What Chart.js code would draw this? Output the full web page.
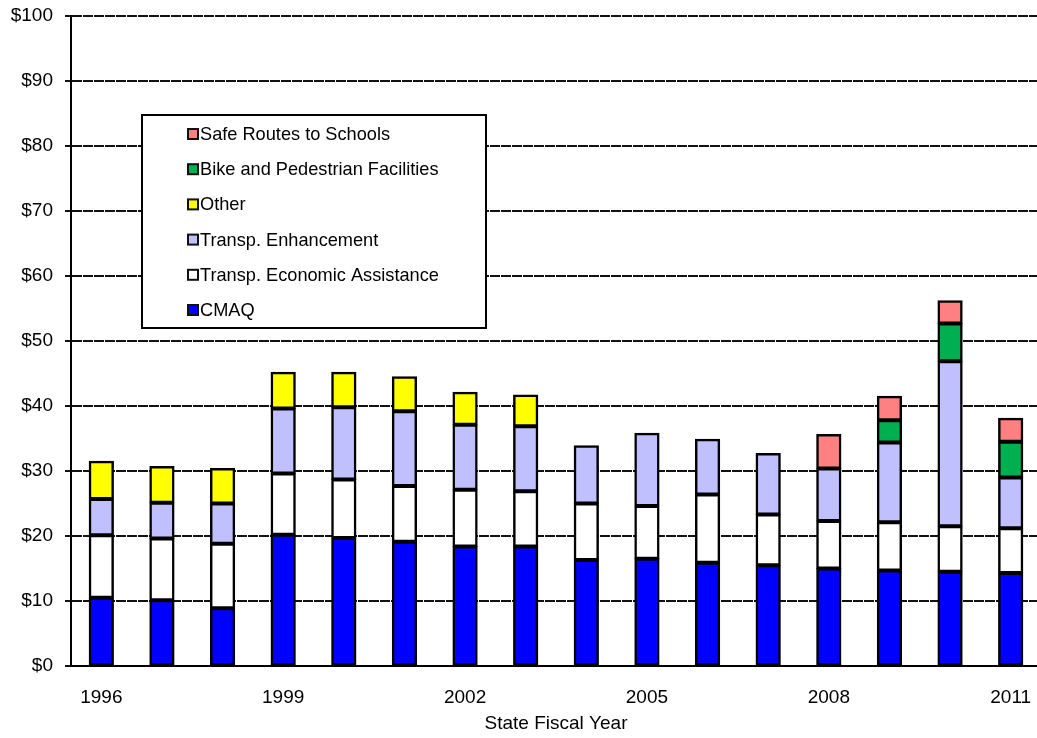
<!DOCTYPE html>
<html>
<head>
<meta charset="utf-8">
<script src="https://cdn.jsdelivr.net/npm/chart.js@4/dist/chart.umd.min.js"></script>
<style>
  html, body { margin: 0; padding: 0; background: #fff; overflow: hidden; width: 1037px; height: 738px; }
  #wrap { position: absolute; left: 0; top: 0; width: 1041px; height: 738px; }
  canvas { display: block; }
</style>
</head>
<body>
<div id="wrap"><canvas id="c" width="1041" height="738" style="width:1041px;height:738px"></canvas></div>
<script>
// State fiscal years
const years = ['1996','1997','1998','1999','2000','2001','2002','2003','2004','2005','2006','2007','2008','2009','2010','2011'];
// Years that get an axis label
const yearTicks = ['1996','1999','2002','2005','2008','2011'];

// Funding by program, $ millions
const cmaq  = [10.5, 10.1, 8.9, 20.2, 19.7, 19.1, 18.4, 18.4, 16.3, 16.5, 15.9, 15.5, 15.0, 14.7, 14.5, 14.3];
const tea   = [9.6, 9.5, 9.9, 9.4, 9.0, 8.6, 8.7, 8.5, 8.7, 8.1, 10.5, 7.8, 7.3, 7.4, 7.0, 6.9];
const enh   = [5.6, 5.5, 6.2, 10.0, 11.1, 11.5, 10.0, 10.0, 8.9, 11.2, 8.5, 9.4, 8.1, 12.3, 25.4, 7.8];
const other = [5.8, 5.6, 5.4, 5.6, 5.4, 5.3, 5.0, 4.8, null, null, null, null, null, null, null, null];
const bike  = [null, null, null, null, null, null, null, null, null, null, null, null, null, 3.4, 5.8, 5.5];
const srts  = [null, null, null, null, null, null, null, null, null, null, null, null, 5.2, 3.7, 3.5, 3.6];

const FONT = "'Liberation Sans', Arial, Helvetica, sans-serif";

function ds(label, data, color) {
  return {
    label, data,
    backgroundColor: color,
    borderColor: '#000',
    borderWidth: 2.5,
    borderSkipped: false,
    inflateAmount: 0.5,
    categoryPercentage: 1.0,
    barPercentage: 0.4
  };
}

// Boxed legend drawn inside the plot, top item = last series
const boxLegend = {
  id: 'boxLegend',
  afterDatasetsDraw(chart) {
    const ctx = chart.ctx;
    const bx = 142, by = 115, bw = 344, bh = 213;
    ctx.save();
    ctx.fillStyle = '#fff';
    ctx.fillRect(bx, by, bw, bh);
    ctx.lineWidth = 2;
    ctx.strokeStyle = '#000';
    ctx.strokeRect(bx, by, bw, bh);
    const items = chart.data.datasets.slice().reverse();
    ctx.font = '18.2px ' + FONT;
    ctx.textBaseline = 'middle';
    ctx.textAlign = 'left';
    items.forEach((d, i) => {
      const cy = 134 + i * 35.2;
      ctx.fillStyle = d.backgroundColor;
      ctx.fillRect(188, cy - 5, 10, 10);
      ctx.lineWidth = 2;
      ctx.strokeStyle = '#111';
      ctx.strokeRect(188, cy - 5, 10, 10);
      ctx.fillStyle = '#000';
      ctx.fillText(d.label, 200, cy + 1);
    });
    ctx.restore();
  }
};

new Chart(document.getElementById('c'), {
  type: 'bar',
  data: {
    labels: years,
    datasets: [
      ds('CMAQ', cmaq, '#0000FF'),
      ds('Transp. Economic Assistance', tea, '#FFFFFF'),
      ds('Transp. Enhancement', enh, '#C0C0FF'),
      ds('Other', other, '#FFFF00'),
      ds('Bike and Pedestrian Facilities', bike, '#00B050'),
      ds('Safe Routes to Schools', srts, '#FF8080')
    ]
  },
  options: {
    responsive: false,
    animation: false,
    layout: { padding: { top: 16, right: 0, left: 0, bottom: 0 } },
    plugins: {
      legend: { display: false },
      tooltip: { enabled: false }
    },
    scales: {
      x: {
        stacked: true,
        grid: { display: false, drawTicks: false },
        border: { display: true, color: '#000', width: 2 },
        ticks: {
          autoSkip: false,
          maxRotation: 0,
          padding: 20,
          color: '#000',
          font: { family: FONT, size: 19 },
          callback: function (v, i) {
            const y = years[i];
            return yearTicks.includes(y) ? y : '';
          }
        },
        title: {
          display: true,
          text: 'State Fiscal Year',
          color: '#000',
          font: { family: FONT, size: 19 },
          padding: { top: 0, bottom: 3 }
        },
        afterFit(s) { s.height = 72; s.paddingLeft = 0; s.paddingRight = 0; }
      },
      y: {
        stacked: true,
        min: 0,
        max: 100,
        ticks: {
          stepSize: 10,
          padding: 12,
          color: '#000',
          font: { family: FONT, size: 19 },
          callback: v => '$' + v
        },
        grid: { color: '#111', lineWidth: 2, tickLength: 6, drawTicks: true },
        border: { display: true, color: '#000', width: 2, dash: [10, 1] },
        afterFit(s) { s.width = 71; s.paddingTop = 0; s.paddingBottom = 0; }
      }
    }
  },
  plugins: [boxLegend]
});
</script>
</body>
</html>
